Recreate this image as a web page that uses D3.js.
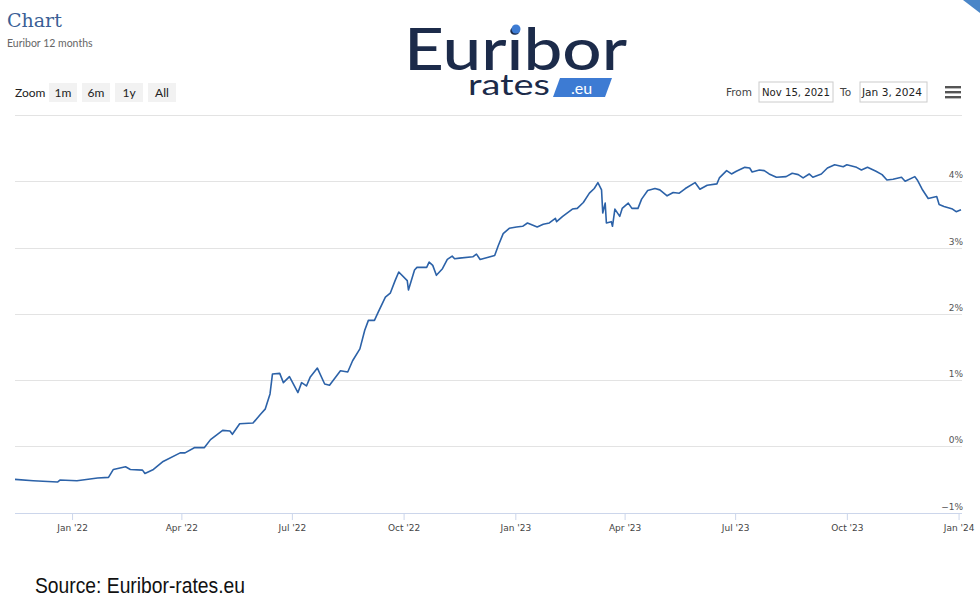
<!DOCTYPE html>
<html><head><meta charset="utf-8">
<script src="https://cdn.jsdelivr.net/npm/d3@7"></script>
<style>body{margin:0;background:#fff}svg{display:block}</style>
</head><body>
<svg id="c" width="980" height="613"></svg>
<script>
const dates = ["2021-11-15","2021-11-30","2021-12-20","2021-12-22","2022-01-05","2022-01-22","2022-01-31","2022-02-04","2022-02-14","2022-02-18","2022-02-28","2022-03-02","2022-03-09","2022-03-17","2022-03-31","2022-04-04","2022-04-12","2022-04-20","2022-04-25","2022-05-05","2022-05-11","2022-05-13","2022-05-19","2022-05-30","2022-06-05","2022-06-09","2022-06-13","2022-06-15","2022-06-21","2022-06-24","2022-06-29","2022-07-06","2022-07-09","2022-07-13","2022-07-16","2022-07-22","2022-07-28","2022-08-01","2022-08-10","2022-08-16","2022-08-20","2022-08-26","2022-08-30","2022-09-02","2022-09-07","2022-09-10","2022-09-16","2022-09-20","2022-09-24","2022-09-27","2022-10-04","2022-10-05","2022-10-10","2022-10-12","2022-10-20","2022-10-22","2022-10-25","2022-10-28","2022-11-02","2022-11-06","2022-11-10","2022-11-12","2022-11-16","2022-11-27","2022-11-30","2022-12-03","2022-12-09","2022-12-15","2022-12-18","2022-12-22","2022-12-27","2023-01-02","2023-01-07","2023-01-11","2023-01-19","2023-01-24","2023-01-29","2023-02-03","2023-02-04","2023-02-09","2023-02-17","2023-02-21","2023-02-26","2023-03-03","2023-03-07","2023-03-10","2023-03-13","2023-03-14","2023-03-16","2023-03-17","2023-03-21","2023-03-22","2023-03-24","2023-03-28","2023-03-30","2023-04-04","2023-04-07","2023-04-12","2023-04-15","2023-04-20","2023-04-26","2023-04-30","2023-05-06","2023-05-11","2023-05-16","2023-05-21","2023-05-29","2023-06-02","2023-06-08","2023-06-16","2023-06-18","2023-06-24","2023-06-28","2023-07-02","2023-07-09","2023-07-13","2023-07-15","2023-07-21","2023-07-25","2023-07-29","2023-08-04","2023-08-12","2023-08-17","2023-08-22","2023-08-26","2023-08-31","2023-09-03","2023-09-10","2023-09-15","2023-09-21","2023-09-28","2023-10-01","2023-10-09","2023-10-13","2023-10-18","2023-10-25","2023-10-30","2023-11-03","2023-11-08","2023-11-15","2023-11-18","2023-11-26","2023-11-28","2023-12-02","2023-12-07","2023-12-14","2023-12-16","2023-12-20","2023-12-27","2023-12-30","2024-01-03"];
const rates = [-0.50,-0.52,-0.54,-0.51,-0.52,-0.48,-0.47,-0.35,-0.31,-0.35,-0.36,-0.41,-0.35,-0.23,-0.10,-0.10,-0.02,-0.02,0.10,0.24,0.23,0.18,0.34,0.35,0.48,0.56,0.79,1.09,1.10,0.96,1.05,0.81,0.96,0.91,1.04,1.18,0.94,0.92,1.14,1.12,1.29,1.47,1.75,1.90,1.90,2.02,2.25,2.31,2.50,2.63,2.50,2.36,2.66,2.70,2.70,2.78,2.73,2.58,2.68,2.82,2.87,2.83,2.84,2.86,2.90,2.82,2.85,2.88,3.03,3.21,3.29,3.31,3.32,3.37,3.31,3.35,3.37,3.44,3.39,3.47,3.58,3.59,3.68,3.82,3.89,3.98,3.87,3.52,3.67,3.37,3.39,3.32,3.58,3.47,3.59,3.67,3.59,3.59,3.73,3.86,3.89,3.87,3.78,3.83,3.82,3.89,3.98,3.88,3.94,3.96,4.05,4.16,4.11,4.15,4.21,4.20,4.14,4.17,4.16,4.11,4.06,4.07,4.12,4.10,4.05,4.11,4.06,4.11,4.20,4.25,4.22,4.25,4.21,4.17,4.21,4.15,4.10,4.02,4.03,4.06,4.00,4.07,4.02,3.88,3.74,3.77,3.65,3.62,3.58,3.54,3.57];
const yTicks = [-1,0,1,2,3,4,5];
const xTickDates = ["2022-01-01","2022-04-01","2022-07-01","2022-10-01","2023-01-01","2023-04-01","2023-07-01","2023-10-01","2024-01-01"];
const xTickLabels = ["Jan '22","Apr '22","Jul '22","Oct '22","Jan '23","Apr '23","Jul '23","Oct '23","Jan '24"];
const zoomButtons = ["1m","6m","1y","All"];

const parse = d3.utcParse("%Y-%m-%d");
const data = dates.map((d,i)=>({d:parse(d),v:rates[i]}));
const svg = d3.select("#c");
const x = d3.scaleUtc().domain([parse("2021-11-15"),parse("2024-01-03")]).range([15,961]);
const y = d3.scaleLinear().domain([-1,5]).range([512.5,115]);

svg.append("text").attr("x",7).attr("y",27).attr("font-family","DejaVu Serif, serif").attr("font-size",19).attr("fill","#3b5f96").text("Chart");
svg.append("text").attr("x",7).attr("y",47).attr("font-family","Lato, sans-serif").attr("font-size",10.5).attr("fill","#666").text("Euribor 12 months");
// logo
svg.append("text").attr("x",404).attr("y",70).attr("font-family","Lato, sans-serif").attr("font-weight",500).attr("font-size",58).attr("fill","#1c2b4a").attr("textLength",223).attr("lengthAdjust","spacingAndGlyphs").text("Euribor");
svg.append("circle").attr("cx",516).attr("cy",29).attr("r",4.5).attr("fill","#3d7bd3");
svg.append("text").attr("x",468).attr("y",95).attr("font-family","Lato, sans-serif").attr("font-size",29).attr("fill","#1c2b4a").attr("textLength",82).attr("lengthAdjust","spacingAndGlyphs").text("rates");
svg.append("path").attr("d","M560,78 L612,78 L605,97 L553,97 Z").attr("fill","#3d7bd3");
svg.append("text").attr("x",571).attr("y",94).attr("font-family","Lato, sans-serif").attr("font-size",16).attr("fill","#fff").text(".eu");
svg.append("path").attr("d","M963,0 L980,0 L980,13 Z").attr("fill","#4a86c8");

svg.append("text").attr("x",15).attr("y",97).attr("font-family","Lato, sans-serif").attr("font-size",12).attr("fill","#222").text("Zoom");
const bx=[49,82,115,148];
zoomButtons.forEach((b,i)=>{
  svg.append("rect").attr("x",bx[i]).attr("y",83).attr("width",28).attr("height",19).attr("fill","#f2f2f2");
  svg.append("text").attr("x",bx[i]+14).attr("y",97).attr("text-anchor","middle").attr("font-family","Lato, sans-serif").attr("font-size",12).attr("fill","#222").text(b);
});
const ff="DejaVu Sans, sans-serif";
svg.append("text").attr("x",726).attr("y",96).attr("font-family",ff).attr("font-size",10.5).attr("fill","#444").text("From");
svg.append("rect").attr("x",759).attr("y",82).attr("width",74).attr("height",20).attr("fill","#fff").attr("stroke","#ccc");
svg.append("text").attr("x",762).attr("y",96).attr("font-family",ff).attr("font-size",10.5).attr("fill","#222").attr("textLength",68).attr("lengthAdjust","spacingAndGlyphs").text("Nov 15, 2021");
svg.append("text").attr("x",840).attr("y",96).attr("font-family",ff).attr("font-size",10.5).attr("fill","#444").text("To");
svg.append("rect").attr("x",860).attr("y",82).attr("width",67).attr("height",20).attr("fill","#fff").attr("stroke","#ccc");
svg.append("text").attr("x",862).attr("y",96).attr("font-family",ff).attr("font-size",10.5).attr("fill","#222").attr("textLength",60).attr("lengthAdjust","spacingAndGlyphs").text("Jan 3, 2024");
[87,92,97].forEach(yy=>svg.append("rect").attr("x",945).attr("y",yy-1).attr("width",16).attr("height",2.4).attr("fill","#555"));

svg.append("g").selectAll("line").data(yTicks.filter(t=>t>-1)).join("line")
  .attr("x1",15).attr("x2",962).attr("y1",d=>Math.round(y(d))+0.5).attr("y2",d=>Math.round(y(d))+0.5).attr("stroke","#e3e3e3");
svg.append("g").selectAll("text").data(yTicks.filter(t=>t<5)).join("text")
  .attr("x",963).attr("y",d=>y(d)-3).attr("text-anchor","end").attr("font-family",ff).attr("font-size",9).attr("fill","#555")
  .text(d=>(d<0?"\u22121":d)+"%");
const xa = d3.axisBottom(x).tickValues(xTickDates.map(parse)).tickFormat((d,i)=>xTickLabels[i]).tickSize(7).tickSizeOuter(0);
const g = svg.append("g").attr("transform","translate(0,513)").call(xa);
g.select(".domain").attr("stroke","#ccd6eb").attr("d","M15,0.5H962");
g.selectAll(".tick line").attr("stroke","#ccd6eb");
g.selectAll("text").attr("font-family",ff).attr("font-size",9).attr("fill","#444").attr("dy","0.9em");

svg.append("path").datum(data).attr("fill","none").attr("stroke","#2c62a8").attr("stroke-width",1.6).attr("stroke-linejoin","round")
  .attr("d",d3.line().x(d=>x(d.d)).y(d=>y(d.v)));

svg.append("text").attr("x",35).attr("y",593).attr("font-family","Liberation Sans, sans-serif").attr("font-size",22).attr("fill","#111").attr("textLength",210).attr("lengthAdjust","spacingAndGlyphs").text("Source: Euribor-rates.eu");
</script>
</body></html>
